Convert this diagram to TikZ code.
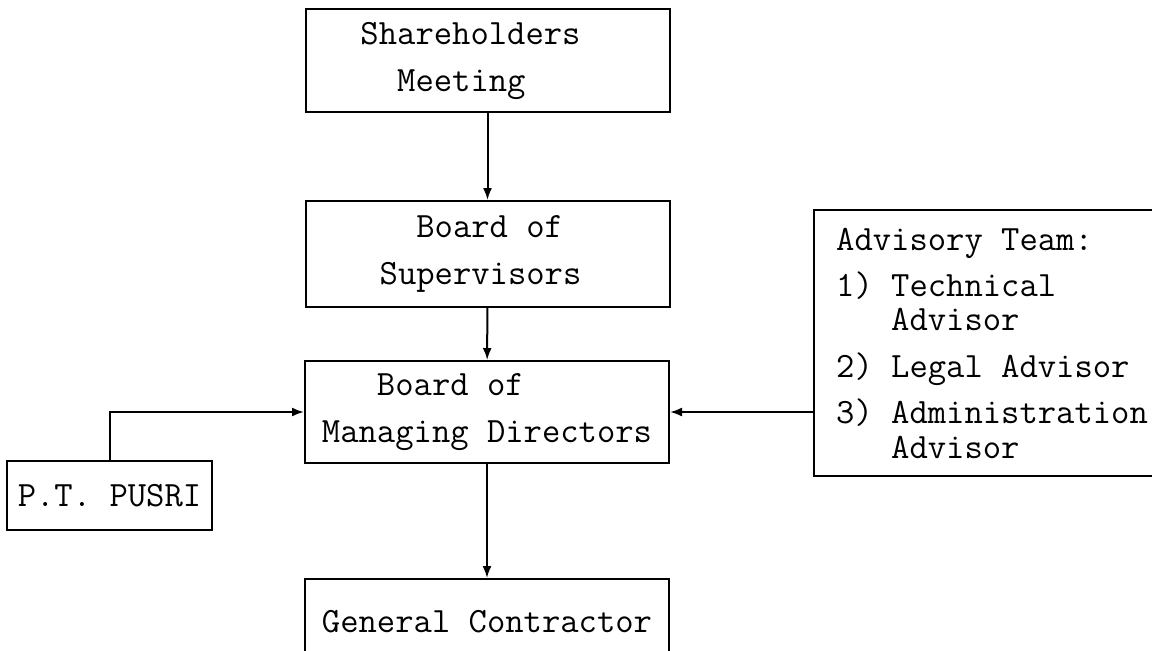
\documentclass[tikz,border=0pt]{standalone}
\usepackage{fontspec}
\usepackage{tikz}
\usetikzlibrary{arrows.meta, positioning}

\begin{document}
\begin{tikzpicture}[
    x=0.5pt, y=-0.5pt,
    orgbox/.style={rectangle, draw, line width=1pt, minimum width=182pt, align=left, inner sep=0pt, font=\ttfamily\fontsize{17.8}{23.5}\selectfont},
    teambox/.style={orgbox, minimum width=178pt, minimum height=133pt, font=\ttfamily\fontsize{17.8}{17.2}\selectfont},
    arrow/.style={-{Latex[length=6pt, width=4.5pt]}, line width=1pt}
]
\useasboundingbox (0,0) rectangle (1152,650);
\clip (0,0) rectangle (1152,650);
\node[orgbox, minimum height=51.5pt] (meeting) at (487.5, 60.5) {Shareholders\hspace*{17pt}\\ \hphantom{Sh}Meeting};
\node[orgbox, minimum height=53pt] (supervisors) at (487.5, 254) {\hphantom{Su}Board of\\ Supervisors\hspace*{7pt}};
\node[orgbox, minimum height=51pt] (directors) at (487, 412) {\hphantom{Man}Board of\\ Managing Directors};
\node[orgbox, minimum height=43pt] (contractor) at (487, 622) {General Contractor};
\node[orgbox, minimum width=102.5pt, minimum height=34.5pt] (pusri) at (109.5, 495.5) {P.T. PUSRI};
\node[teambox] (advisory) at (992, 343) {Advisory Team:\\[6pt]
    1) Technical\\ \hphantom{1) }Advisor\\[6pt]
    2) Legal Advisor\\[6pt]
    3) Administration\\ \hphantom{1) }Advisor};
\draw[arrow] (meeting) -- (supervisors);
\draw[arrow] (supervisors) -- (directors);
\draw[arrow] (directors) -- (contractor);
\draw[arrow] (pusri) |- (directors);
\draw[arrow] (advisory.west |- directors) -- (directors);
\end{tikzpicture}
\end{document}
